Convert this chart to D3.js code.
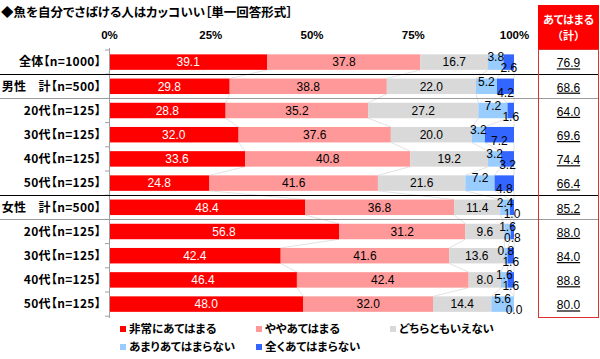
<!DOCTYPE html>
<html><head><meta charset="utf-8">
<script src="https://cdn.jsdelivr.net/npm/d3@7"></script>
<style>
body{margin:0;background:#fff;}
svg{display:block;}
text{font-family:"Liberation Sans",Arial,"Noto Sans CJK JP",sans-serif;}
.jp{font-family:"Noto Sans CJK JP","Liberation Sans",sans-serif;font-feature-settings:"palt";}
.jpw{font-family:"Noto Sans CJK JP","Liberation Sans",sans-serif;}
</style></head><body>
<svg id="c" width="600" height="359"></svg>
<script>
const title = "◆魚を自分でさばける人はカッコいい［単一回答形式］";
const categories = ["全体【n=1000】","男性　計【n=500】","20代【n=125】","30代【n=125】","40代【n=125】","50代【n=125】","女性　計【n=500】","20代【n=125】","30代【n=125】","40代【n=125】","50代【n=125】"];
const seriesNames = ["非常にあてはまる","ややあてはまる","どちらともいえない","あまりあてはまらない","全くあてはまらない"];
const s1 = [39.1,29.8,28.8,32.0,33.6,24.8,48.4,56.8,42.4,46.4,48.0];
const s2 = [37.8,38.8,35.2,37.6,40.8,41.6,36.8,31.2,41.6,42.4,32.0];
const s3 = [16.7,22.0,27.2,20.0,19.2,21.6,11.4,9.6,13.6,8.0,14.4];
const s4 = [3.8,5.2,7.2,3.2,3.2,7.2,2.4,1.6,0.8,1.6,5.6];
const s5 = [2.6,4.2,1.6,7.2,3.2,4.8,1.0,0.8,1.6,1.6,0.0];
const totals = ["76.9","68.6","64.0","69.6","74.4","66.4","85.2","88.0","84.0","88.8","80.0"];
const tickValues = [0,25,50,75,100];
const colors = ["#ff0000","#ff9999","#d9d9d9","#99ccff","#3366ff"];
const totalHeader = ["あてはまる","（計）"];

const svg = d3.select("#c");
const x = d3.scaleLinear().domain([0,100]).range([109,514]);
const y = d3.scaleBand().domain(d3.range(categories.length)).range([50,316.2]).paddingInner(0.36).paddingOuter(0.18);
const series = [s1,s2,s3,s4,s5];
const rows = categories.map((c,i)=>{
  const o = {i};
  series.forEach((s,k)=>o["k"+k]=s[i]);
  return o;
});
const stack = d3.stack().keys(series.map((s,k)=>"k"+k));
const stacked = stack(rows);

// title
svg.append("text").attr("class","jp").attr("x",1).attr("y",17).attr("font-size",12.5).attr("font-weight","bold").attr("fill","#000").text(title);

// top axis labels
const axisTop = d3.axisTop(x).tickValues(tickValues).tickFormat(d=>d+"%").tickSize(0);
const ga = svg.append("g").attr("transform","translate(0,42)").call(axisTop);
ga.select(".domain").remove();
ga.selectAll("text").attr("font-size",11.5).attr("font-weight","bold").attr("fill","#000").attr("font-family","'Liberation Sans',Arial,sans-serif");

// series connector lines
const b = y.bandwidth();
for(let k=0;k<stacked.length;k++){
  const layer = stacked[k];
  for(let i=0;i<rows.length-1;i++){
    svg.append("line")
      .attr("x1",x(layer[i][1])).attr("y1",y(i)+b)
      .attr("x2",x(layer[i+1][1])).attr("y2",y(i+1))
      .attr("stroke","#d6d6d6").attr("stroke-width",0.7);
  }
}

// bars
stacked.forEach((layer,k)=>{
  svg.append("g").selectAll("rect").data(layer).join("rect")
    .attr("x",d=>x(d[0])).attr("y",(d,i)=>y(i))
    .attr("width",d=>Math.max(0,x(d[1])-x(d[0]))).attr("height",b)
    .attr("fill",colors[k]);
});

// left axis
svg.append("line").attr("x1",109.5).attr("x2",109.5).attr("y1",48).attr("y2",318).attr("stroke","#a0a0a0").attr("stroke-width",1);
for(let i=0;i<=categories.length;i++){
  const yy = 50 + i*y.step();
  svg.append("line").attr("x1",105).attr("x2",109.5).attr("y1",yy).attr("y2",yy).attr("stroke","#a0a0a0");
}

// separators
const sepBlack = [1,6], sepGrey = [2,7];
sepBlack.forEach(i=>{
  const yy = Math.round(50 + i*y.step())+0.5;
  svg.append("line").attr("x1",0).attr("x2",599).attr("y1",yy).attr("y2",yy).attr("stroke","#000").attr("stroke-width",1.2);
});
sepGrey.forEach(i=>{
  const yy = Math.round(50 + i*y.step())+0.5;
  svg.append("line").attr("x1",0).attr("x2",599).attr("y1",yy).attr("y2",yy).attr("stroke","#9a9a9a").attr("stroke-width",1);
});

// value labels
const yOff = [0,0,0,-5,6];
stacked.forEach((layer,k)=>{
  svg.append("g").selectAll("text").data(layer).join("text")
    .attr("x",d=>(x(d[0])+x(d[1]))/2)
    .attr("y",(d,i)=>y(i)+b/2+yOff[k])
    .attr("dy","0.36em").attr("text-anchor","middle")
    .attr("font-size",12).attr("fill",k===0?"#fff":"#000")
    .text((d,i)=>series[k][i].toFixed(1));
});

// category labels
svg.append("g").selectAll("text").data(categories).join("text")
  .attr("class","jp")
  .attr("x",101).attr("y",(d,i)=>y(i)+b/2).attr("dy","0.36em")
  .attr("text-anchor","end").attr("font-size",12).attr("font-weight","bold").attr("fill","#000")
  .attr("letter-spacing",0.3)
  .text(d=>d);

// right totals column
svg.append("rect").attr("x",538).attr("y",5).attr("width",61).attr("height",44).attr("fill","#ff0000");
svg.append("text").attr("class","jp").attr("x",568.5).attr("y",24).attr("text-anchor","middle").attr("font-size",11).attr("font-weight","bold").attr("fill","#fff").text(totalHeader[0]);
svg.append("text").attr("class","jpw").attr("x",568.5).attr("y",40).attr("text-anchor","middle").attr("font-size",11).attr("font-weight","bold").attr("fill","#fff").text(totalHeader[1]);
svg.append("rect").attr("x",538.5).attr("y",49.5).attr("width",60).attr("height",268).attr("fill","none").attr("stroke","#e03030").attr("stroke-width",1);
svg.append("g").selectAll("text").data(totals).join("text")
  .attr("x",568.5).attr("y",(d,i)=>y(i)+b/2+1).attr("dy","0.36em").attr("text-anchor","middle")
  .attr("font-size",12).attr("fill","#000").attr("text-decoration","underline")
  .text(d=>d);

// legend
const legPos = [[120,329],[256,329],[390,329],[120,347],[256,347]];
seriesNames.forEach((n,k)=>{
  const g = svg.append("g").attr("transform",`translate(${legPos[k][0]},${legPos[k][1]})`);
  g.append("rect").attr("x",0).attr("y",-3).attr("width",6).attr("height",6).attr("fill",colors[k]);
  g.append("text").attr("class","jp").attr("x",9).attr("y",0).attr("dy","0.36em").attr("font-size",11.5).attr("font-weight","bold").attr("fill","#000").text(n);
});
</script>
</body></html>
